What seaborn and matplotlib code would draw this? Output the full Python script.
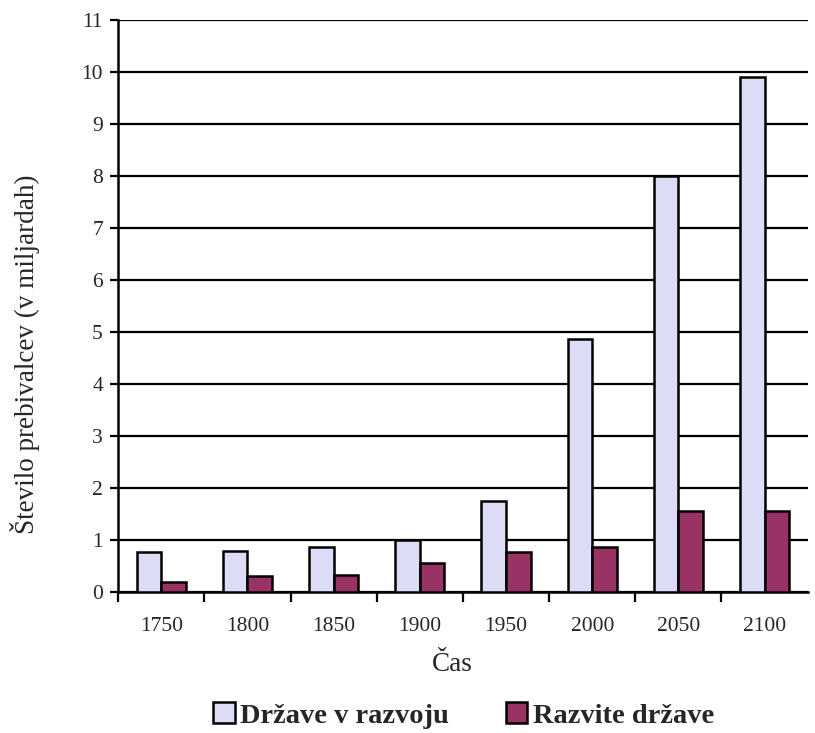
import pandas as pd
import seaborn as sns
import matplotlib.pyplot as plt
from matplotlib.ticker import FixedLocator
from matplotlib.patches import Patch

# Data (billions of people)
years = ["1750", "1800", "1850", "1900", "1950", "2000", "2050", "2100"]
developing = [0.77, 0.79, 0.87, 1.0, 1.76, 4.86, 8.0, 9.9]
developed = [0.19, 0.31, 0.34, 0.56, 0.77, 0.87, 1.56, 1.56]
series_names = ["Države v razvoju", "Razvite države"]
colors = ["#DCDCF6", "#993366"]

df = pd.DataFrame({
    "leto": years * 2,
    "vrednost": developing + developed,
    "skupina": [series_names[0]] * len(years) + [series_names[1]] * len(years),
})

sns.set_theme(style="white")
plt.rcParams["font.family"] = ["Liberation Serif", "DejaVu Serif"]

fig = plt.figure(figsize=(8.15, 7.33), dpi=100)
ax = fig.add_axes([0.145, 0.192, 0.846, 0.781])

sns.barplot(data=df, x="leto", y="vrednost", hue="skupina", palette=colors,
            saturation=1, width=0.57, edgecolor="black", linewidth=1.8, ax=ax,
            legend=False, zorder=3)

ax.set_ylim(0, 11)
ax.set_xlim(-0.5, len(years) - 0.5)
ax.set_yticks(range(0, 12))
ax.yaxis.grid(True, color="black", linewidth=1.6, zorder=0)
ax.set_axisbelow(True)

for side in ["top", "right"]:
    ax.spines[side].set_visible(False)
for side in ["left", "bottom"]:
    ax.spines[side].set_color("black")
    ax.spines[side].set_linewidth(1.8)

ax.tick_params(axis="y", direction="out", length=6, width=1.6, color="black",
               labelsize=15.5, left=True, pad=5)
ax.tick_params(axis="x", which="major", length=0, labelsize=15.5, pad=18)
ax.xaxis.set_minor_locator(FixedLocator([i - 0.5 for i in range(len(years))]))
ax.tick_params(axis="x", which="minor", direction="out", length=7, width=1.6,
               color="black", bottom=True)

ax.set_xlabel("Čas", fontsize=19.5)
ax.set_ylabel("Število prebivalcev (v miljardah)", fontsize=19.5)
ax.xaxis.set_label_coords(0.484, -0.105)
ax.yaxis.set_label_coords(-0.113, 0.416)

handles = [Patch(facecolor=c, edgecolor="black", linewidth=1.8) for c in colors]
fig.legend(handles, series_names, loc="center", bbox_to_anchor=(0.569, 0.024),
           ncol=2, frameon=False, prop={"weight": "bold", "size": 20.5},
           handlelength=0.75, handleheight=0.75, handletextpad=0.2,
           columnspacing=2.0, borderpad=0)

fig.savefig("out.png", dpi=100)
